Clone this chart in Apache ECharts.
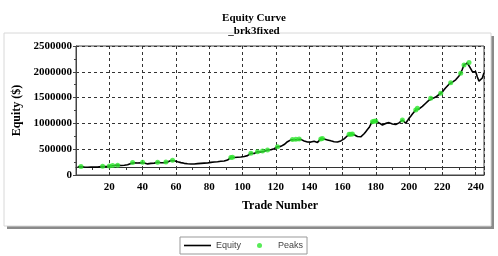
<!DOCTYPE html>
<html><head><meta charset="utf-8">
<script src="https://cdn.jsdelivr.net/npm/echarts@6/dist/echarts.min.js"></script>
<style>html,body{margin:0;padding:0;background:#fff}#c{width:498px;height:256px}</style>
</head><body><div id="c"></div>
<script>
// Equity in thousands of dollars, trade 1..245
const equityK = [
160,163,165,160,156,152,150,148,152,155,
153,150,152,158,163,168,166,170,167,172,
178,185,183,189,191,186,184,187,190,195,
198,210,225,240,235,228,232,238,236,245,
232,220,215,218,225,222,230,240,248,242,
238,245,240,252,250,262,280,286,275,265,
255,245,240,232,226,222,218,214,212,210,
212,215,220,222,226,224,230,235,232,240,
245,248,252,255,258,262,265,262,270,280,
290,310,340,346,338,342,345,350,348,355,
360,365,375,400,420,412,418,440,450,440,
445,465,460,470,485,480,488,495,510,530,
548,540,555,565,590,620,645,660,680,688,
684,692,686,698,690,678,660,648,640,630,
638,650,655,645,632,660,700,705,698,690,
680,672,662,655,645,642,640,648,660,680,
700,730,760,789,792,795,780,760,745,738,
740,760,800,840,880,920,980,1033,1040,1045,
1030,1010,990,970,985,1000,1008,1015,1000,990,
985,980,995,1010,1040,1066,1030,1002,1050,1100,
1140,1182,1220,1260,1293,1280,1310,1330,1357,1390,
1420,1450,1486,1480,1500,1510,1530,1560,1583,1610,
1650,1690,1720,1760,1789,1800,1820,1845,1874,1920,
1971,2050,2132,2150,2170,2180,2060,2002,2030,2000,
1900,1820,1800,1880,1980
];
const peakTrades = [3,16,20,22,25,34,40,49,54,58,93,94,105,109,112,115,121,130,132,134,147,148,164,165,166,178,179,180,196,204,205,213,219,225,231,233,236];
const xTicks = [20,40,60,80,100,120,140,160,180,200,220,240];
const yTicks = [0,500000,1000000,1500000,2000000,2500000];

const equityData = equityK.map((v, i) => [i + 1, v * 1000]);
const peakData = peakTrades.map(t => [t, equityK[t - 1] * 1000]);

const serif = '"Liberation Serif", "Times New Roman", serif';
const chart = echarts.init(document.getElementById('c'), null, {renderer: 'canvas'});
chart.setOption({
  animation: false,
  backgroundColor: '#fff',
  graphic: [
    {type: 'rect', shape: {x: 7, y: 36, width: 487, height: 193}, style: {fill: '#8a8a8a'}, z: -10, silent: true},
    {type: 'rect', shape: {x: 4, y: 33, width: 487, height: 193}, style: {fill: '#fff', stroke: '#d8d8d8', lineWidth: 1}, z: -9, silent: true}
  ],
  title: {
    text: 'Equity Curve\n_brk3fixed',
    left: 249, top: 7, textAlign: 'center',
    textStyle: {fontFamily: serif, fontWeight: 'bold', fontSize: 11, lineHeight: 13, color: '#000'}
  },
  legend: {
    data: [
      {name: 'Equity', icon: 'path://M0,0 L27,0 L27,1.6 L0,1.6 Z'},
      {name: 'Peaks', icon: 'circle'}
    ],
    left: 180, top: 237,
    itemWidth: 27, itemHeight: 5, itemGap: 16,
    padding: [4, 4],
    borderColor: '#999', borderWidth: 1,
    textStyle: {fontFamily: '"Liberation Sans", Arial, sans-serif', fontSize: 9, color: '#444'}
  },
  grid: {left: 76, right: 14, top: 46, bottom: 81, show: true, borderColor: '#444', borderWidth: 1, backgroundColor: '#fff'},
  xAxis: [{
    type: 'value', min: 0, max: 245, interval: 20,
    name: 'Trade Number', nameLocation: 'middle', nameGap: 25,
    nameTextStyle: {fontFamily: serif, fontWeight: 'bold', fontSize: 12, color: '#000'},
    axisLine: {show: true, lineStyle: {color: '#444'}},
    axisTick: {show: false},
    axisLabel: {fontFamily: serif, fontWeight: 'bold', fontSize: 11, color: '#000', margin: 7,
      showMinLabel: false,
      formatter: v => xTicks.indexOf(v) >= 0 ? String(v) : ''},
    splitLine: {show: true, lineStyle: {color: '#333', type: [3, 3], width: 1}}
  }, {
    type: 'value', min: 0, max: 245, interval: 10, position: 'bottom', offset: -8,
    axisLine: {show: true, onZero: false, lineStyle: {color: '#333'}},
    axisTick: {show: true, length: 3, lineStyle: {color: '#333'}},
    axisLabel: {show: false},
    splitLine: {show: false}
  }],
  yAxis: {
    type: 'value', min: 0, max: 2500000, interval: 500000,
    name: 'Equity ($)', nameLocation: 'middle', nameGap: 48,
    nameTextStyle: {fontFamily: serif, fontWeight: 'bold', fontSize: 12, color: '#000'},
    axisLine: {show: true, lineStyle: {color: '#444'}},
    axisTick: {show: true, length: 3, lineStyle: {color: '#444'}},
    minorTick: {show: true, splitNumber: 2, length: 2, lineStyle: {color: '#444'}},
    axisLabel: {fontFamily: serif, fontWeight: 'bold', fontSize: 11, color: '#000', margin: 4,
      formatter: v => yTicks.indexOf(v) >= 0 ? String(v) : ''},
    splitLine: {show: true, lineStyle: {color: '#333', type: [3, 3], width: 1}}
  },
  series: [{
    name: 'Equity', type: 'line', data: equityData, symbol: 'none',
    lineStyle: {color: '#000', width: 1.6}, itemStyle: {color: '#000'}, z: 3
  }, {
    name: 'Peaks', type: 'scatter', data: peakData, symbol: 'circle', symbolSize: 5,
    itemStyle: {color: '#2ee62e'}, z: 4
  }]
});
</script></body></html>
